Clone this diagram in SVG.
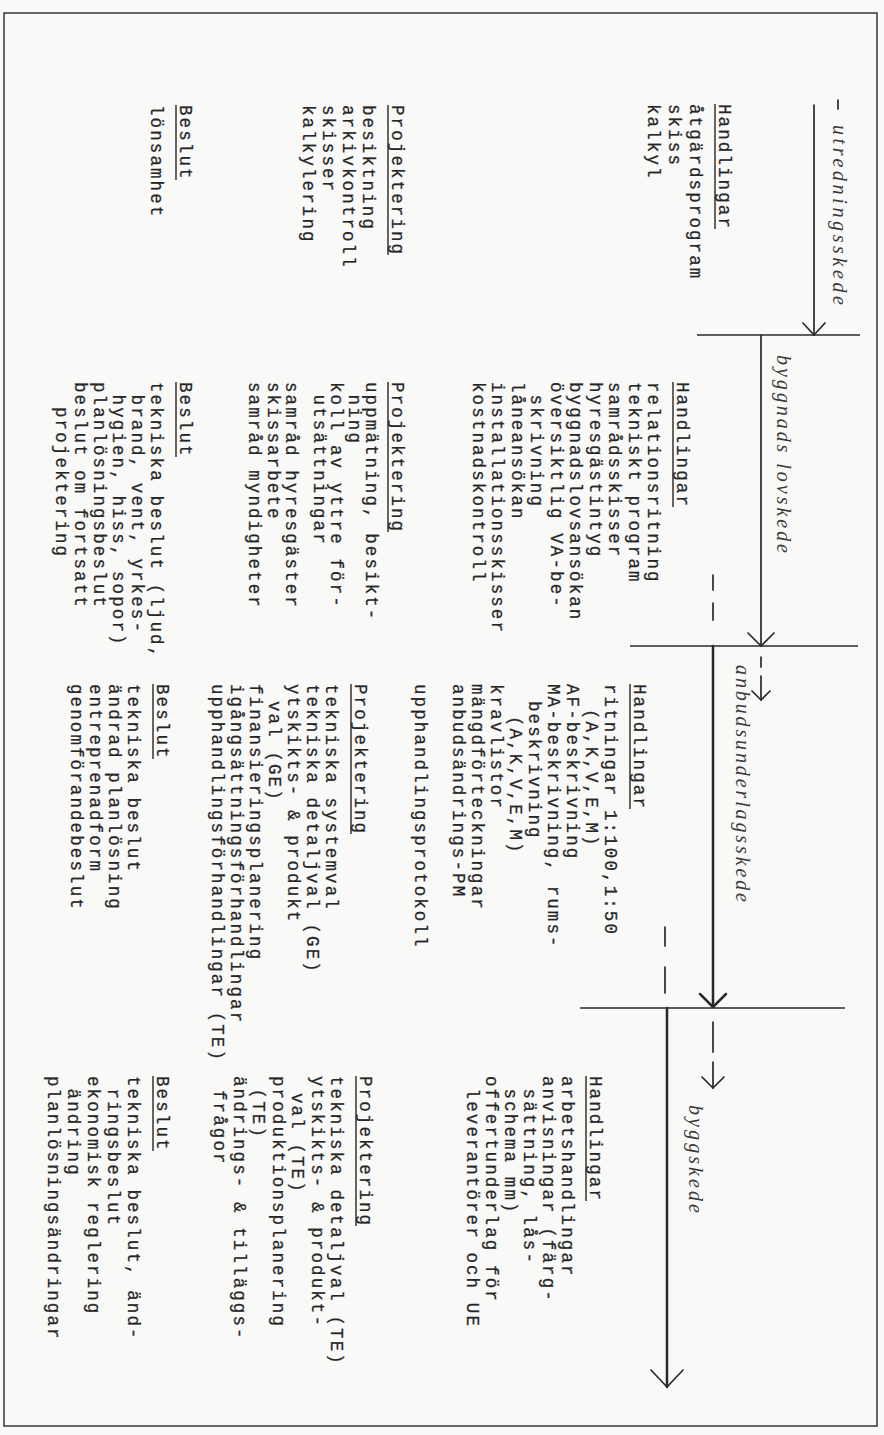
<svg xmlns="http://www.w3.org/2000/svg" width="884" height="1435" viewBox="0 0 884 1435">
<style>
.t{font-family:"Liberation Mono","DejaVu Sans Mono",monospace;font-size:17.5px;letter-spacing:2.1px;fill:#262626;stroke:#262626;stroke-width:0.25}
.u{stroke:#262626;stroke-width:1.4}
.lbl{font-family:"Liberation Serif","DejaVu Serif",serif;font-style:italic;font-size:20px;fill:#3a3a3a}
.ln{stroke:#2a2a2a;stroke-width:1.7;fill:none;stroke-linecap:round;stroke-linejoin:round}
.thick{stroke-width:2.5}
.hz{stroke:#2a2a2a;stroke-width:1.4}
</style>
<rect x="0" y="0" width="884" height="1435" fill="#f9f9f8"/>
<rect x="4" y="13" width="873" height="1413" fill="none" stroke="#2a2a2a" stroke-width="1.4"/>

<g id="connectors">
  <line class="ln" x1="838" y1="100" x2="838" y2="109"/>
  <line class="ln" x1="814" y1="105" x2="814" y2="335"/>
  <path class="ln" d="M803,323 L814,335 L825,323"/>
  <line class="hz" x1="697" y1="335" x2="860" y2="335"/>
  <line class="ln" x1="761" y1="335" x2="761" y2="646"/>
  <path class="ln" d="M748,633 L761,646 L774,633"/>
  <line class="ln" x1="713" y1="575" x2="713" y2="590"/>
  <line class="ln" x1="713" y1="603" x2="713" y2="620"/>
  <line class="hz" x1="630" y1="646" x2="858" y2="646"/>
  <line class="ln" x1="761" y1="657" x2="761" y2="667"/>
  <line class="ln" x1="761" y1="676" x2="761" y2="700"/>
  <path class="ln" d="M752,691 L761,700 L770,691"/>
  <line class="ln thick" x1="713" y1="646" x2="713" y2="1007"/>
  <path class="ln thick" d="M700,994 L713,1007 L726,994"/>
  <line class="ln" x1="665" y1="927" x2="665" y2="946"/>
  <line class="ln" x1="665" y1="967" x2="665" y2="993"/>
  <line class="hz" x1="580" y1="1008" x2="845" y2="1008"/>
  <line class="ln" x1="713" y1="1022" x2="713" y2="1052"/>
  <line class="ln" x1="713" y1="1062" x2="713" y2="1088"/>
  <path class="ln" d="M702,1077 L713,1088 L724,1077"/>
  <line class="ln thick" x1="667" y1="1008" x2="667" y2="1387"/>
  <path class="ln" d="M651,1370 L667,1387 L683,1370"/>
</g>

<g id="phase-labels">
  <text class="lbl" transform="translate(833,125) rotate(90)" textLength="180" lengthAdjust="spacing">utredningsskede</text>
  <text class="lbl" transform="translate(777,355) rotate(90)" textLength="198" lengthAdjust="spacing">byggnads lovskede</text>
  <text class="lbl" transform="translate(736,665) rotate(90)" textLength="237" lengthAdjust="spacing">anbudsunderlagsskede</text>
  <text class="lbl" transform="translate(689,1105) rotate(90)" textLength="108" lengthAdjust="spacing">byggskede</text>
</g>

<g id="a-handlingar" transform="translate(719,104) rotate(90)">
  <line class="u" x1="0" y1="4" x2="125" y2="4"/>
  <text class="t" x="0" y="0">Handlingar</text>
  <text class="t" x="0" y="29">åtgärdsprogram</text>
  <text class="t" x="0" y="50">skiss</text>
  <text class="t" x="0" y="71">kalkyl</text>
</g>
<g id="a-projektering" transform="translate(392,105) rotate(90)">
  <line class="u" x1="0" y1="4" x2="150" y2="4"/>
  <text class="t" x="0" y="0">Projektering</text>
  <text class="t" x="0" y="29">besiktning</text>
  <text class="t" x="0" y="49">arkivkontroll</text>
  <text class="t" x="0" y="69">skisser</text>
  <text class="t" x="0" y="89">kalkylering</text>
</g>
<g id="a-beslut" transform="translate(180,105) rotate(90)">
  <line class="u" x1="0" y1="4" x2="75" y2="4"/>
  <text class="t" x="0" y="0">Beslut</text>
  <text class="t" x="0" y="29">lönsamhet</text>
</g>

<g id="b-handlingar" transform="translate(677,382) rotate(90)">
  <line class="u" x1="0" y1="4" x2="125" y2="4"/>
  <text class="t" x="0" y="0">Handlingar</text>
  <text class="t" x="0" y="29">relationsritning</text>
  <text class="t" x="0" y="48.5">tekniskt program</text>
  <text class="t" x="0" y="68">samrådsskisser</text>
  <text class="t" x="0" y="87.5">hyresgästintyg</text>
  <text class="t" x="0" y="107">byggnadslovsansökan</text>
  <text class="t" x="0" y="126.5">översiktlig VA-be-</text>
  <text class="t" x="12.6" y="146">skrivning</text>
  <text class="t" x="0" y="165.5">låneansökan</text>
  <text class="t" x="0" y="185">installationsskisser</text>
  <text class="t" x="0" y="204.5">kostnadskontroll</text>
</g>
<g id="b-projektering" transform="translate(392,382) rotate(90)">
  <line class="u" x1="0" y1="4" x2="150" y2="4"/>
  <text class="t" x="0" y="0">Projektering</text>
  <text class="t" x="0" y="26">uppmätning, besikt-</text>
  <text class="t" x="12.6" y="43">ning</text>
  <text class="t" x="0" y="61">koll av yttre för-</text>
  <text class="t" x="12.6" y="78">utsättningar</text>
  <text class="t" x="0" y="106">samråd hyresgäster</text>
  <text class="t" x="0" y="124">skissarbete</text>
  <text class="t" x="0" y="143">samråd myndigheter</text>
</g>
<g id="b-beslut" transform="translate(180,382) rotate(90)">
  <line class="u" x1="0" y1="4" x2="75" y2="4"/>
  <text class="t" x="0" y="0">Beslut</text>
  <text class="t" x="0" y="29">tekniska beslut (ljud,</text>
  <text class="t" x="12.6" y="48">brand, vent, yrkes-</text>
  <text class="t" x="12.6" y="67">hygien, hiss, sopor)</text>
  <text class="t" x="0" y="86">planlösningsbeslut</text>
  <text class="t" x="0" y="105">beslut om fortsatt</text>
  <text class="t" x="25" y="124">projektering</text>
</g>

<g id="c-handlingar" transform="translate(634,684) rotate(90)">
  <line class="u" x1="0" y1="4" x2="125" y2="4"/>
  <text class="t" x="0" y="0">Handlingar</text>
  <text class="t" x="0" y="29">ritningar 1:100,1:50</text>
  <text class="t" x="25" y="48">(A,K,V,E,M)</text>
  <text class="t" x="0" y="67">AF-beskrivning</text>
  <text class="t" x="0" y="86">MA-beskrivning, rums-</text>
  <text class="t" x="17" y="105">beskrivning</text>
  <text class="t" x="32" y="124">(A,K,V,E,M)</text>
  <text class="t" x="0" y="143">kravlistor</text>
  <text class="t" x="0" y="162">mängdförteckningar</text>
  <text class="t" x="0" y="181">anbudsändrings-PM</text>
  <text class="t" x="0" y="219">upphandlingsprotokoll</text>
</g>
<g id="c-projektering" transform="translate(355,684) rotate(90)">
  <line class="u" x1="0" y1="4" x2="150" y2="4"/>
  <text class="t" x="0" y="0">Projektering</text>
  <text class="t" x="0" y="29">tekniska systemval</text>
  <text class="t" x="0" y="48">tekniska detaljval (GE)</text>
  <text class="t" x="0" y="67">ytskikts- &amp; produkt</text>
  <text class="t" x="17" y="86">val (GE)</text>
  <text class="t" x="0" y="105">finansieringsplanering</text>
  <text class="t" x="0" y="124">igångsättningsförhandlingar</text>
  <text class="t" x="0" y="143">upphandlingsförhandlingar (TE)</text>
</g>
<g id="c-beslut" transform="translate(157,684) rotate(90)">
  <line class="u" x1="0" y1="4" x2="75" y2="4"/>
  <text class="t" x="0" y="0">Beslut</text>
  <text class="t" x="0" y="29">tekniska beslut</text>
  <text class="t" x="0" y="48">ändrad planlösning</text>
  <text class="t" x="0" y="67">entreprenadform</text>
  <text class="t" x="0" y="86">genomförandebeslut</text>
</g>

<g id="d-handlingar" transform="translate(590,1076) rotate(90)">
  <line class="u" x1="0" y1="4" x2="125" y2="4"/>
  <text class="t" x="0" y="0">Handlingar</text>
  <text class="t" x="0" y="28">arbetshandlingar</text>
  <text class="t" x="0" y="47">anvisningar (färg-</text>
  <text class="t" x="12.6" y="66">sättning, lås-</text>
  <text class="t" x="12.6" y="85">schema mm)</text>
  <text class="t" x="0" y="104">offertunderlag för</text>
  <text class="t" x="12.6" y="123">leverantörer och UE</text>
</g>
<g id="d-projektering" transform="translate(360,1076) rotate(90)">
  <line class="u" x1="0" y1="4" x2="150" y2="4"/>
  <text class="t" x="0" y="0">Projektering</text>
  <text class="t" x="0" y="29">tekniska detaljval (TE)</text>
  <text class="t" x="0" y="48.5">ytskikts- &amp; produkt-</text>
  <text class="t" x="17" y="68">val (TE)</text>
  <text class="t" x="0" y="87.5">produktionsplanering</text>
  <text class="t" x="12.6" y="107">(TE)</text>
  <text class="t" x="0" y="126.5">ändrings- &amp; tilläggs-</text>
  <text class="t" x="14" y="146">frågor</text>
</g>
<g id="d-beslut" transform="translate(157,1076) rotate(90)">
  <line class="u" x1="0" y1="4" x2="75" y2="4"/>
  <text class="t" x="0" y="0">Beslut</text>
  <text class="t" x="0" y="29">tekniska beslut, änd-</text>
  <text class="t" x="12.6" y="49">ringsbeslut</text>
  <text class="t" x="0" y="69">ekonomisk reglering</text>
  <text class="t" x="12.6" y="89">ändring</text>
  <text class="t" x="0" y="109">planlösningsändringar</text>
</g>
</svg>
